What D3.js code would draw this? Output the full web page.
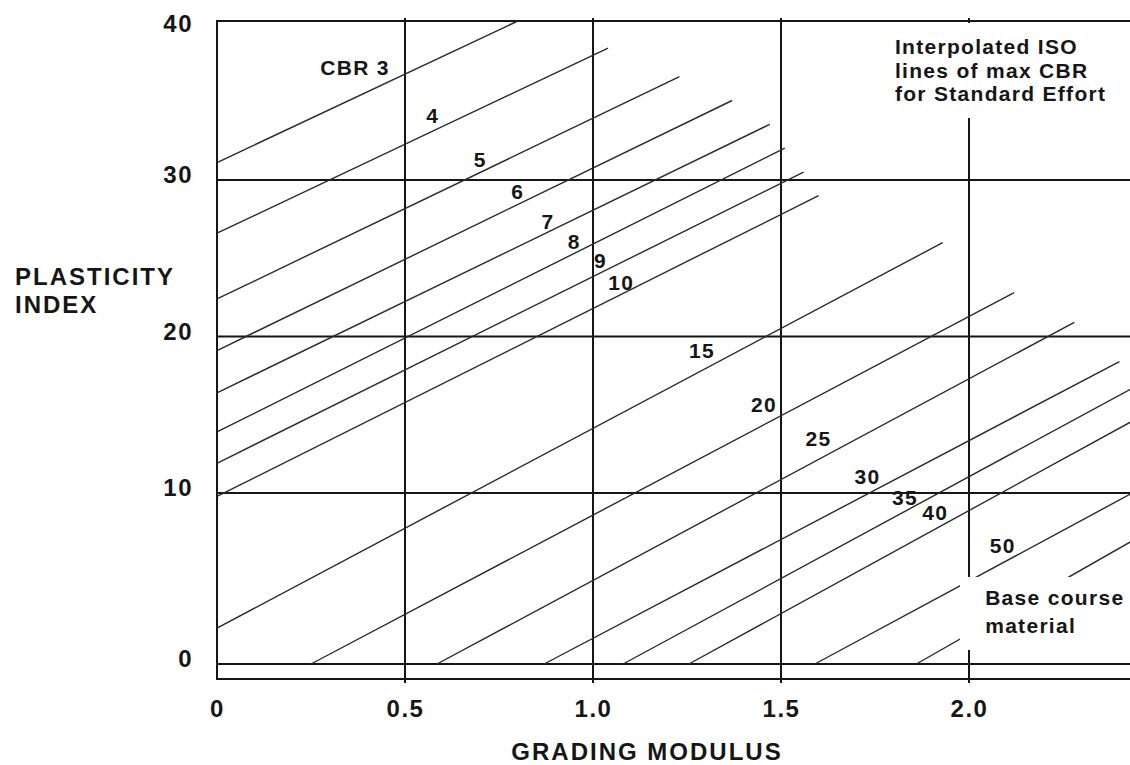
<!DOCTYPE html>
<html>
<head>
<meta charset="utf-8">
<script src="https://cdn.jsdelivr.net/npm/d3@7"></script>
<style>
  body { margin: 0; background: #fff; }
  svg { display: block; font-family: "Liberation Sans", Arial, sans-serif; }
</style>
</head>
<body>
<svg id="chart" width="1130" height="765"></svg>
<script>
// ISO lines of max CBR: plasticity index against grading modulus
const cbrValues  = [3, 4, 5, 6, 7, 8, 9, 10, 15, 20, 25, 30, 35, 40, 50, 60]
const lineLabels = ['CBR 3', '4', '5', '6', '7', '8', '9', '10', '15', '20', '25', '30', '35', '40', '50', '']

// [grading modulus, plasticity index] at both ends of each iso line
const lineStart = [[0, 31.1], [0, 26.6], [0, 22.4], [0, 19.1], [0, 16.4], [0, 13.9], [0, 11.9], [0, 9.8],
                   [0, 2.1], [0.25, 0], [0.585, 0], [0.87, 0], [1.08, 0], [1.255, 0], [1.59, 0], [1.86, 0]]
const lineEnd   = [[0.80, 40], [1.04, 38.3], [1.23, 36.5], [1.37, 35.0], [1.47, 33.5], [1.51, 32.0], [1.56, 30.5], [1.60, 29.0],
                   [1.93, 26.0], [2.12, 22.8], [2.28, 20.9], [2.40, 18.4], [2.45, 16.9], [2.45, 14.8], [2.45, 10.2], [2.45, 7.4]]
// where each line's label sits (text baseline)
const labelAt   = [[0.367, 36.6], [0.574, 33.6], [0.70, 30.8], [0.80, 28.8], [0.88, 26.9], [0.95, 25.6], [1.02, 24.4], [1.075, 23.0],
                   [1.29, 18.6], [1.455, 15.2], [1.60, 13.0], [1.73, 10.6], [1.83, 9.3], [1.91, 8.4], [2.09, 6.5], [2.2, 4]]

const xTicks = [0, 0.5, 1.0, 1.5, 2.0]
const xTickLabels = ['0', '0.5', '1.0', '1.5', '2.0']
const yTicks = [0, 10, 20, 30, 40]
const yTickLabels = ['0', '10', '20', '30', '40']

const noteText = ['Interpolated ISO', 'lines of max CBR', 'for Standard Effort']
const baseText = ['Base course', 'material']

const width = 1130
const height = 765
const ink = '#161616'

const svg = d3.select('#chart')

const x = d3.scaleLinear()
    .domain([0, 2])
    .range([217, 969])

// the printed grid is not evenly spaced, so follow it piece by piece
const y = d3.scaleLinear()
    .domain([-1, 0, 10, 20, 30, 40])
    .range([679, 664, 493, 336.5, 180, 21])

const xMax = 2.5

// horizontal grid lines
svg.append('g')
    .selectAll('line')
    .data(yTicks.slice(0, -1))
    .join('line')
    .attr('x1', x(0)).attr('x2', x(xMax))
    .attr('y1', d => y(d)).attr('y2', d => y(d))
    .attr('stroke', ink)
    .attr('stroke-width', 2)

// vertical grid lines, poking just past the frame
svg.append('g')
    .selectAll('line')
    .data(xTicks.slice(1))
    .join('line')
    .attr('x1', d => x(d)).attr('x2', d => x(d))
    .attr('y1', y(40) - 3).attr('y2', y(-1) + 4)
    .attr('stroke', ink)
    .attr('stroke-width', 2)

// frame
svg.append('path')
    .attr('d', `M${x(xMax)},${y(40)}H${x(0)}V${y(-1)}H${x(xMax)}`)
    .attr('fill', 'none')
    .attr('stroke', ink)
    .attr('stroke-width', 2)

// iso lines
svg.append('g')
    .selectAll('line')
    .data(cbrValues)
    .join('line')
    .attr('x1', (d, i) => x(lineStart[i][0]))
    .attr('y1', (d, i) => y(lineStart[i][1]))
    .attr('x2', (d, i) => x(lineEnd[i][0]))
    .attr('y2', (d, i) => y(lineEnd[i][1]))
    .attr('stroke', '#2a2a2a')
    .attr('stroke-width', 1.4)

// white patches behind the two notes
svg.append('rect')
    .attr('x', x(1.79)).attr('y', y(40) + 2)
    .attr('width', width - x(1.79)).attr('height', y(33.9) - y(40) - 2)
    .attr('fill', '#fff')

svg.append('rect')
    .attr('x', x(1.976)).attr('y', y(5.09))
    .attr('width', width - x(1.976)).attr('height', y(0.82) - y(5.09))
    .attr('fill', '#fff')

// tick labels
const xAxis = svg.append('g')
    .attr('transform', `translate(0,${y(-1)})`)
    .call(d3.axisBottom(x).tickValues(xTicks).tickFormat((d, i) => xTickLabels[i]).tickSize(0).tickPadding(21))
xAxis.select('.domain').remove()

const yAxis = svg.append('g')
    .attr('transform', `translate(${x(0)},0)`)
    .call(d3.axisLeft(y).tickValues(yTicks).tickFormat((d, i) => yTickLabels[i]).tickSize(0).tickPadding(24))
yAxis.select('.domain').remove()
yAxis.selectAll('text').attr('y', d => d === 40 ? 3 : -5)

svg.selectAll('.tick text')
    .attr('fill', ink)
    .style('font-family', '"Liberation Sans", Arial, sans-serif')
    .style('font-size', '24px')
    .style('font-weight', 'bold')
    .style('letter-spacing', '1.5px')

// axis titles
const titleStyle = sel => sel
    .attr('fill', ink)
    .style('font-size', '24px')
    .style('font-weight', 'bold')
    .style('letter-spacing', '2px')

svg.append('text')
    .attr('x', 647).attr('y', 760)
    .attr('text-anchor', 'middle')
    .text('GRADING MODULUS')
    .call(titleStyle)

svg.append('text')
    .attr('x', 15).attr('y', 285)
    .text('PLASTICITY')
    .call(titleStyle)

svg.append('text')
    .attr('x', 15).attr('y', 313)
    .text('INDEX')
    .call(titleStyle)

// line labels and notes
const noteStyle = sel => sel
    .attr('fill', ink)
    .style('font-size', '21px')
    .style('font-weight', 'bold')
    .style('letter-spacing', '1.3px')

svg.append('g')
    .selectAll('text')
    .data(lineLabels)
    .join('text')
    .attr('x', (d, i) => x(labelAt[i][0]))
    .attr('y', (d, i) => y(labelAt[i][1]))
    .attr('text-anchor', 'middle')
    .text(d => d)
    .call(noteStyle)

svg.append('g')
    .selectAll('text')
    .data(noteText)
    .join('text')
    .attr('x', x(1.803))
    .attr('y', (d, i) => y(37.9) + i * 23.5)
    .text(d => d)
    .call(noteStyle)

svg.append('g')
    .selectAll('text')
    .data(baseText)
    .join('text')
    .attr('x', x(2.043))
    .attr('y', (d, i) => y(3.45) + i * 28)
    .text(d => d)
    .call(noteStyle)
</script>
</body>
</html>
